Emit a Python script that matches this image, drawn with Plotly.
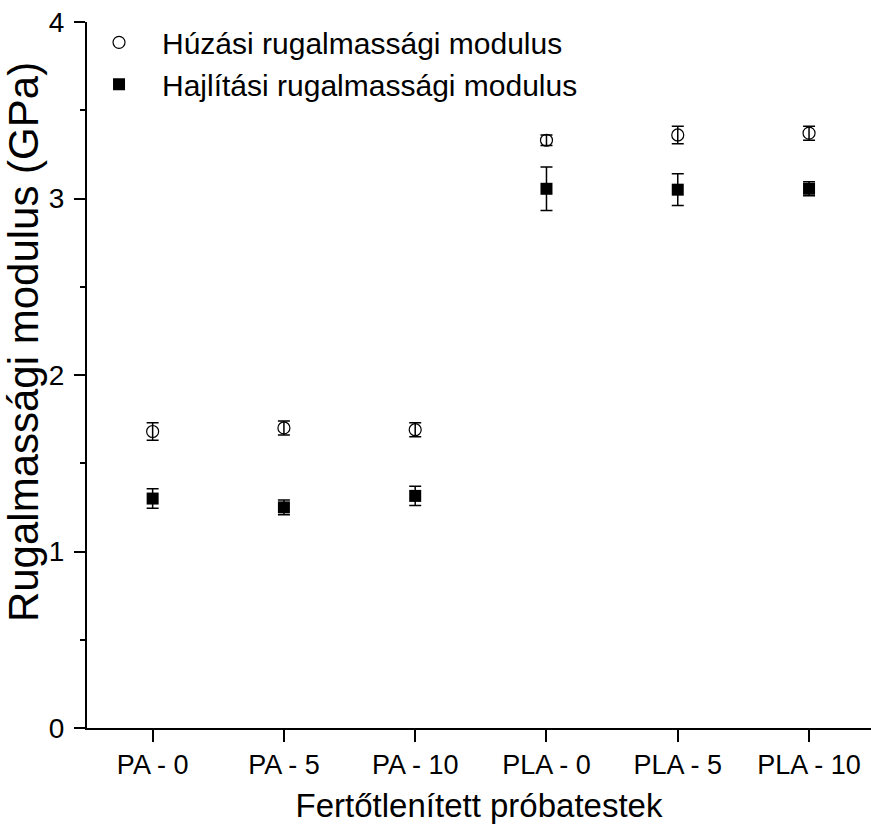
import plotly.graph_objects as go

categories = ["PA - 0", "PA - 5", "PA - 10", "PLA - 0", "PLA - 5", "PLA - 10"]
tensile = [1.68, 1.70, 1.69, 3.33, 3.36, 3.37]
tensile_err = [0.05, 0.04, 0.04, 0.03, 0.05, 0.04]
flexural = [1.30, 1.25, 1.315, 3.055, 3.05, 3.055]
flexural_err = [0.055, 0.042, 0.055, 0.123, 0.09, 0.04]
y_ticks = [0, 1, 2, 3, 4]

x = list(range(len(categories)))

fig = go.Figure()
fig.add_trace(go.Scatter(
    x=x, y=tensile, mode="markers", name="Húzási rugalmassági modulus",
    marker=dict(symbol="circle-open", size=12, color="black", line=dict(width=1.2)),
    error_y=dict(type="data", array=tensile_err, color="black", thickness=1.5, width=6),
))
fig.add_trace(go.Scatter(
    x=x, y=flexural, mode="markers", name="Hajlítási rugalmassági modulus",
    marker=dict(symbol="square", size=12, color="black"),
    error_y=dict(type="data", array=flexural_err, color="black", thickness=1.5, width=6),
))

font_family = "Liberation Sans, Arial, sans-serif"
fig.update_layout(
    width=871, height=836,
    plot_bgcolor="white", paper_bgcolor="white",
    margin=dict(l=87, r=0, t=22, b=108, autoexpand=False),
    font=dict(family=font_family, color="black", size=20),
    showlegend=True,
    legend=dict(x=-0.014, y=1.008, xanchor="left", yanchor="top",
                font=dict(size=30, family=font_family), bgcolor="rgba(0,0,0,0)",
                itemwidth=76, tracegroupgap=0),
    xaxis=dict(
        range=[-0.5, 5.472], tickmode="array", tickvals=x, ticktext=categories,
        showline=True, linecolor="black", linewidth=2, ticks="outside",
        ticklen=12, tickwidth=2, tickcolor="black", showgrid=False, zeroline=False,
        tickfont=dict(size=27), automargin=False, ticklabeloverflow="allow",
        title=dict(text="Fertőtlenített próbatestek", font=dict(size=33), standoff=14),
    ),
    yaxis=dict(
        range=[0, 4], tickmode="array", tickvals=y_ticks,
        showline=True, linecolor="black", linewidth=2, ticks="outside",
        ticklen=11, tickwidth=2, tickcolor="black", showgrid=False, zeroline=False,
        tickfont=dict(size=28), automargin=False, ticklabelstandoff=4,
        ticklabeloverflow="allow",
        minor=dict(dtick=0.5, ticks="outside", ticklen=5, tickwidth=2, tickcolor="black"),
    ),
    annotations=[dict(
        text="Rugalmassági modulus (GPa)", textangle=-90, showarrow=False,
        xref="paper", yref="paper", x=-0.080, y=0.547,
        xanchor="center", yanchor="middle", font=dict(size=42, family=font_family),
        borderpad=0,
    )],
)

# remove the browser's default 8px body margin so the figure fills the window
fig.write_html("out.html", config={"displayModeBar": False},
               post_script="document.body.style.margin='0px';")
